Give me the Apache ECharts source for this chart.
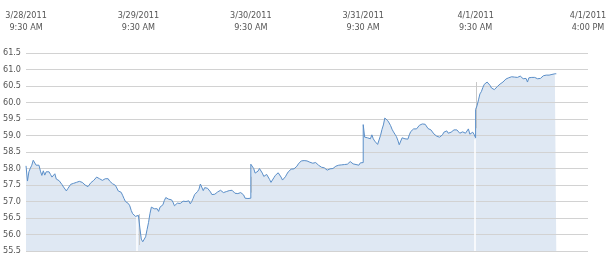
<!DOCTYPE html>
<html>
<head>
<meta charset="utf-8">
<script src="https://cdn.jsdelivr.net/npm/echarts@6/dist/echarts.min.js"></script>
<style>
html,body{margin:0;padding:0;background:#fff;}
#chart{width:612px;height:258px;}
</style>
</head>
<body>
<div id="chart"></div>
<script>
// Tick labels along the top (one per trading-day boundary)
const tickLabels = ['3/28/2011\n9:30 AM', '3/29/2011\n9:30 AM', '3/30/2011\n9:30 AM', '3/31/2011\n9:30 AM', '4/1/2011\n9:30 AM', '4/1/2011\n4:00 PM'];
const yTicks = [55.5, 56.0, 56.5, 57.0, 57.5, 58.0, 58.5, 59.0, 59.5, 60.0, 60.5, 61.0, 61.5];

// Prices every 5 minutes from 9:30 AM
const day1 = [58.08, 57.62, 57.90, 58.01, 58.10, 58.25, 58.20, 58.10, 58.10, 58.10,
  57.92, 57.79, 57.93, 57.80, 57.90, 57.94, 57.90, 57.82, 57.74, 57.78,
  57.84, 57.68, 57.62, 57.63, 57.59, 57.51, 57.44, 57.38, 57.32, 57.39,
  57.45, 57.52, 57.54, 57.55, 57.57, 57.58, 57.59, 57.61, 57.61, 57.58,
  57.55, 57.50, 57.44, 57.45, 57.51, 57.57, 57.57, 57.64, 57.70, 57.74,
  57.72, 57.69, 57.65, 57.64, 57.65, 57.69, 57.71, 57.69, 57.62, 57.56,
  57.54, 57.52, 57.49, 57.41, 57.32, 57.29, 57.28, 57.19, 57.09, 57.00,
  56.96, 56.94, 56.87, 56.73, 56.63, 56.58, 56.55, 56.55, 56.58];
const day2 = [56.60, 56.20, 55.86, 55.78, 55.74, 55.93, 56.15, 56.36, 56.63, 56.83,
  56.84, 56.78, 56.75, 56.78, 56.70, 56.83, 56.88, 56.90, 57.03, 57.12,
  57.09, 57.07, 57.04, 57.05, 56.98, 56.87, 56.88, 56.95, 56.94, 56.94,
  56.97, 57.01, 57.01, 57.00, 56.97, 57.02, 56.93, 57.00, 57.10, 57.21,
  57.27, 57.30, 57.37, 57.53, 57.48, 57.33, 57.42, 57.41, 57.40, 57.36,
  57.29, 57.21, 57.18, 57.22, 57.27, 57.29, 57.32, 57.34, 57.33, 57.27,
  57.27, 57.30, 57.35, 57.33, 57.35, 57.34, 57.28, 57.25, 57.24, 57.24,
  57.25, 57.27, 57.27, 57.20, 57.10, 57.09, 57.09, 57.09, 57.10];
const day3 = [58.13, 58.08, 58.00, 57.86, 57.81, 57.92, 58.00, 58.02, 57.86, 57.76,
  57.80, 57.82, 57.77, 57.67, 57.58, 57.63, 57.72, 57.79, 57.85, 57.87,
  57.83, 57.74, 57.65, 57.66, 57.75, 57.83, 57.90, 57.94, 57.98, 57.98,
  57.99, 58.01, 58.07, 58.14, 58.20, 58.23, 58.25, 58.24, 58.23, 58.23,
  58.21, 58.19, 58.18, 58.16, 58.17, 58.18, 58.14, 58.10, 58.06, 58.04,
  58.01, 58.02, 58.01, 57.95, 57.99, 57.99, 57.98, 58.00, 58.01, 58.07,
  58.13, 58.10, 58.10, 58.11, 58.12, 58.12, 58.11, 58.13, 58.17, 58.21,
  58.20, 58.14, 58.09, 58.12, 58.12, 58.10, 58.17, 58.18, 58.18];
const day4 = [59.33, 58.95, 58.97, 58.93, 58.92, 58.90, 59.02, 58.90, 58.83, 58.79,
  58.73, 58.76, 59.00, 59.18, 59.32, 59.53, 59.50, 59.45, 59.38, 59.30,
  59.19, 59.11, 59.04, 58.97, 58.86, 58.72, 58.78, 58.93, 58.93, 58.90,
  58.88, 58.89, 59.02, 59.12, 59.18, 59.20, 59.18, 59.20, 59.26, 59.31,
  59.35, 59.35, 59.35, 59.34, 59.29, 59.21, 59.21, 59.17, 59.11, 59.05,
  59.01, 58.98, 58.97, 58.95, 58.95, 59.02, 59.10, 59.14, 59.14, 59.07,
  59.07, 59.10, 59.16, 59.17, 59.18, 59.17, 59.13, 59.07, 59.08, 59.11,
  59.05, 59.07, 59.13, 59.20, 59.04, 59.02, 59.10, 59.03, 58.93];
const day5 = [59.79, 59.90, 60.08, 60.26, 60.33, 60.45, 60.55, 60.60, 60.62, 60.62,
  60.52, 60.44, 60.40, 60.39, 60.44, 60.48, 60.52, 60.56, 60.60, 60.62,
  60.64, 60.71, 60.75, 60.75, 60.76, 60.78, 60.75, 60.77, 60.74, 60.76,
  60.79, 60.80, 60.76, 60.72, 60.72, 60.73, 60.62, 60.75, 60.75, 60.76,
  60.77, 60.76, 60.75, 60.72, 60.72, 60.73, 60.78, 60.81, 60.83, 60.83,
  60.83, 60.83, 60.85, 60.85, 60.85, 60.87, 60.87];

// Opening range marks for days 2..5 (high, low); null = not visible
const openHigh = [56.62, 57.75, null, 60.62];
const openLow = [55.68, 57.27, null, 59.22];
// Days preceded by a visible gap in the shaded area
const gapDays = [1, 4];

const days = [day1, day2, day3, day4, day5];
const stepsPerDay = 78; // 390 minutes / 5
const yMin = 55.5, yMax = 61.5;

const points = [];
days.forEach((vals, d) => {
  vals.forEach((v, i) => points.push([d + i / stepsPerDay, v]));
});

const markData = [];
gapDays.forEach(d => {
  const prevClose = days[d - 1][days[d - 1].length - 1];
  const top = Math.min(prevClose, days[d][0]) - 0.04;
  markData.push([{coord: [d - 0.012, yMin], lineStyle: {color: '#ffffff', width: 1.5, type: 'solid'}},
                 {coord: [d - 0.012, top]}]);
});
openHigh.forEach((h, k) => {
  if (h == null) return;
  const d = k + 1;
  markData.push([{coord: [d + 0.004, h], lineStyle: {color: '#c8c8c8', width: 1, type: 'solid'}},
                 {coord: [d + 0.004, openLow[k]]}]);
});

const font = "'DejaVu Sans Condensed', 'Liberation Sans', sans-serif";
const chart = echarts.init(document.getElementById('chart'), null, {renderer: 'canvas'});
chart.setOption({
  animation: false,
  backgroundColor: '#ffffff',
  grid: {left: 24, right: 24, top: 53, bottom: 7, containLabel: false},
  xAxis: {
    type: 'value', position: 'top', min: 0, max: 5, interval: 1,
    axisLine: {show: false}, axisTick: {show: false}, splitLine: {show: false},
    axisLabel: {
      formatter: v => tickLabels[Math.round(v)] || '',
      color: '#555555', fontSize: 9, fontFamily: font, lineHeight: 12, margin: 19,
      showMinLabel: true, showMaxLabel: true, hideOverlap: false
    }
  },
  yAxis: {
    type: 'value', min: yMin, max: yMax, interval: 0.5, z: 3,
    axisLine: {show: false}, axisTick: {show: false},
    splitLine: {show: true, lineStyle: {color: '#d2d2d2', width: 1}},
    axisLabel: {
      formatter: v => yTicks.includes(Math.round(v * 10) / 10) ? v.toFixed(1) : '',
      color: '#555555', fontSize: 9, fontFamily: font, margin: 5
    }
  },
  series: [
    {
      type: 'line', data: points, showSymbol: false, z: 1, silent: true,
      lineStyle: {width: 0, opacity: 0},
      areaStyle: {color: '#dfe8f3', opacity: 1, origin: 'start'},
      markLine: {silent: true, symbol: ['none', 'none'], label: {show: false},
                 lineStyle: {type: 'solid'}, emphasis: {disabled: true},
                 animation: false, data: markData}
    },
    {
      type: 'line', data: points, showSymbol: false, z: 5, silent: true,
      lineStyle: {color: '#5b8fc9', width: 1}
    }
  ]
});
</script>
</body>
</html>
